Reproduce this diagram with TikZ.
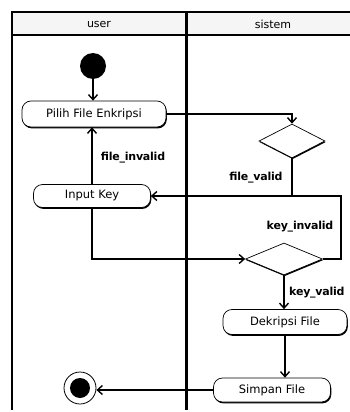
\documentclass[tikz,border=0pt]{standalone}
\usepackage{fontspec}
\setmainfont{DejaVu Sans}
\newfontfamily\lblfont[LetterSpace=-2]{DejaVu Sans}
\usetikzlibrary{shapes.geometric,arrows.meta,shadows}
\begin{document}
\begin{tikzpicture}[x=1pt,y=-1pt,
  act/.style={draw,line width=0.7pt,rounded corners=9pt,fill=white,
    font=\fontsize{11.5}{13}\selectfont,inner sep=0pt,
    drop shadow={shadow xshift=0.8pt,shadow yshift=-1.4pt,fill=black,opacity=1}},
  dec/.style={draw,diamond,line width=0.7pt,fill=white,inner sep=0pt,
    drop shadow={shadow xshift=0.6pt,shadow yshift=-1.2pt,fill=black,opacity=1}},
  arr/.style={line width=1.7pt,-{Straight Barb[length=5pt,width=9pt,line width=1.4pt]}},
  ln/.style={line width=1.7pt},
  lbl/.style={font=\lblfont\bfseries\fontsize{11}{12}\selectfont,inner sep=0pt},
  frame/.style={line width=2.6pt}]
\useasboundingbox (0,0) rectangle (350,412);
% swimlane frame
\fill[gray!8] (12,12) rectangle (350,35);
\draw[frame] (12,410) -- (12,12) -- (350,12);
\draw[frame] (12,35) -- (350,35);
\draw[line width=3pt] (186,12) -- (186,410);
\node[font=\fontsize{11}{12}\selectfont] (huser) at (99,24) {user};
\node[font=\fontsize{11}{12}\selectfont] (hsis) at (273,24) {sistem};
% nodes
\node[circle,fill=black,minimum size=26pt,inner sep=0pt] (start) at (93,66) {};
\node[act,minimum width=144pt,minimum height=26pt] (pilih) at (94,114) {Pilih File Enkripsi};
\node[dec,minimum width=66pt,minimum height=34pt] (d1) at (292,141) {};
\node[act,minimum width=117pt,minimum height=23pt] (input) at (92,196) {Input Key};
\node[dec,minimum width=77pt,minimum height=32pt] (d2) at (284,259) {};
\node[act,minimum width=124pt,minimum height=25pt] (dek) at (285,322) {Dekripsi File};
\node[act,minimum width=117pt,minimum height=24pt] (simpan) at (272,390) {Simpan File};
\node[circle,draw,line width=0.8pt,fill=white,minimum size=32pt,inner sep=0pt] (end) at (80,388) {};
\node[circle,fill=black,minimum size=20pt,inner sep=0pt] (endin) at (end.center) {};
\coordinate (kc) at (341,196);
% connectors
\draw[arr] (start) -- (start |- pilih.north);
\draw[arr] (pilih.east) -| (d1.north);
\draw[arr] (d1.south) |- (input.east);
\draw[ln] (d2.east) -| (kc) -- (d1.south |- kc);
\draw[arr] (input.north) -- (input.north |- pilih.south);
\draw[arr] (input.south) |- (d2.west);
\draw[arr] (d2.south) -- (d2.south |- dek.north);
\draw[arr] (dek.south) -- (dek.south |- simpan.north);
\draw[arr] (simpan.west) -- (simpan.west -| end.east);
% labels
\node[lbl] (l1) at (133,158) {file\_invalid};
\node[lbl] (l2) at (256,178) {file\_valid};
\node[lbl] (l3) at (300,227) {key\_invalid};
\node[lbl,anchor=west] (l4) at (289,293) {key\_valid};
\end{tikzpicture}
\end{document}
